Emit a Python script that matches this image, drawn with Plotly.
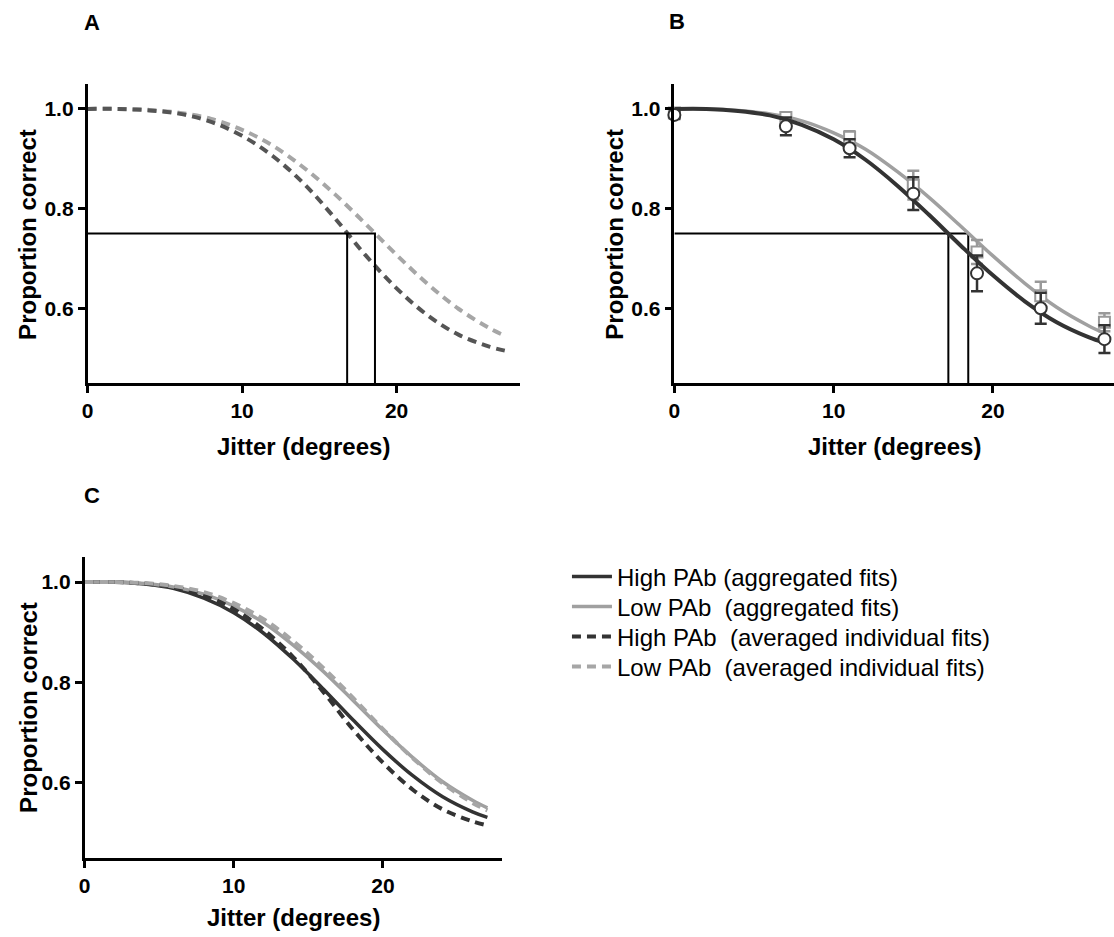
import plotly.graph_objects as go

# ---------------- data ----------------
fit_jitter = [0, 2, 4, 6, 8, 10, 12, 14, 16, 18, 20, 22, 24, 26, 27]

high_avg_fit = [1.000, 1.000, 0.997, 0.990, 0.974, 0.946, 0.905, 0.850, 0.781, 0.706, 0.640, 0.586, 0.547, 0.523, 0.515]
low_avg_fit = [1.000, 1.000, 0.998, 0.992, 0.980, 0.958, 0.926, 0.882, 0.829, 0.769, 0.707, 0.649, 0.599, 0.560, 0.545]
high_agg_fit = [1.000, 1.000, 0.996, 0.987, 0.968, 0.939, 0.898, 0.846, 0.787, 0.725, 0.666, 0.614, 0.572, 0.542, 0.531]
low_agg_fit = [1.000, 1.000, 0.997, 0.990, 0.976, 0.952, 0.919, 0.874, 0.822, 0.764, 0.705, 0.650, 0.602, 0.565, 0.550]

jitter_levels = [0, 7, 11, 15, 19, 23, 27]
high_mean = [0.988, 0.965, 0.921, 0.830, 0.670, 0.600, 0.538]
high_err = [0.008, 0.018, 0.018, 0.033, 0.036, 0.031, 0.028]
low_mean = [0.992, 0.983, 0.943, 0.847, 0.713, 0.625, 0.572]
low_err = [0.006, 0.010, 0.012, 0.029, 0.024, 0.028, 0.018]

criterion = 0.75
thresholds_A = [16.8, 18.6]   # high, low (averaged individual fits)
thresholds_B = [17.2, 18.45]  # high, low (aggregated fits)

x_ticks = [0, 10, 20]
y_ticks = [0.6, 0.8, 1.0]
y_range = [0.45, 1.05]

legend_names = [
    "High PAb (aggregated fits)",
    "Low PAb\u00a0 (aggregated fits)",
    "High PAb\u00a0 (averaged individual fits)",
    "Low PAb\u00a0 (averaged individual fits)",
]

# ---------------- styling ----------------
W, H = 1114, 937
DARK = "#333333"
MID = "#555555"
LIGHT = "#a6a6a6"
LIGHT_MARK = "#999999"
FONT = "Liberation Sans, Arial, sans-serif"
DASH = "9px,6px"


def px_x(p):
    return p / W


def px_y(p):
    return 1 - p / H


fig = go.Figure()

# ---------- Panel A ----------
fig.add_trace(go.Scatter(x=fit_jitter, y=low_avg_fit, mode="lines", line=dict(color=LIGHT, width=4, dash=DASH, shape="spline"),
                         xaxis="x", yaxis="y", showlegend=False, hoverinfo="skip"))
fig.add_trace(go.Scatter(x=fit_jitter, y=high_avg_fit, mode="lines", line=dict(color=MID, width=4, dash=DASH, shape="spline"),
                         xaxis="x", yaxis="y", showlegend=False, hoverinfo="skip"))
fig.add_trace(go.Scatter(x=[0, thresholds_A[1], thresholds_A[1]], y=[criterion, criterion, y_range[0]], mode="lines",
                         line=dict(color="black", width=2), xaxis="x", yaxis="y", showlegend=False, hoverinfo="skip"))
fig.add_trace(go.Scatter(x=[thresholds_A[0], thresholds_A[0]], y=[criterion, y_range[0]], mode="lines",
                         line=dict(color="black", width=2), xaxis="x", yaxis="y", showlegend=False, hoverinfo="skip"))

# ---------- Panel B ----------
fig.add_trace(go.Scatter(x=[0, thresholds_B[1], thresholds_B[1]], y=[criterion, criterion, y_range[0]], mode="lines",
                         line=dict(color="black", width=2), xaxis="x2", yaxis="y2", showlegend=False, hoverinfo="skip"))
fig.add_trace(go.Scatter(x=[thresholds_B[0], thresholds_B[0]], y=[criterion, y_range[0]], mode="lines",
                         line=dict(color="black", width=2), xaxis="x2", yaxis="y2", showlegend=False, hoverinfo="skip"))
fig.add_trace(go.Scatter(x=fit_jitter, y=low_agg_fit, mode="lines", line=dict(color="#a0a0a0", width=3.5, shape="spline"),
                         xaxis="x2", yaxis="y2", showlegend=False, hoverinfo="skip"))
fig.add_trace(go.Scatter(x=jitter_levels, y=low_mean, mode="markers",
                         marker=dict(symbol="square", size=11, color="white", line=dict(color=LIGHT_MARK, width=2)),
                         error_y=dict(type="data", array=low_err, color=LIGHT_MARK, thickness=2.5, width=6),
                         xaxis="x2", yaxis="y2", showlegend=False, cliponaxis=False))
fig.add_trace(go.Scatter(x=fit_jitter, y=high_agg_fit, mode="lines", line=dict(color=DARK, width=4, shape="spline"),
                         xaxis="x2", yaxis="y2", showlegend=False, hoverinfo="skip"))
fig.add_trace(go.Scatter(x=jitter_levels, y=high_mean, mode="markers",
                         marker=dict(symbol="circle", size=12, color="white", line=dict(color=DARK, width=2)),
                         error_y=dict(type="data", array=high_err, color=DARK, thickness=2.5, width=6),
                         xaxis="x2", yaxis="y2", showlegend=False, cliponaxis=False))

# ---------- Panel C (each legend entry in its own legend box for exact spacing) ----------
c_series = [
    (high_agg_fit, dict(color=DARK, width=3.5), "legend"),
    (low_agg_fit, dict(color="#a0a0a0", width=3.5), "legend2"),
    (high_avg_fit, dict(color=DARK, width=4, dash=DASH), "legend3"),
    (low_avg_fit, dict(color=LIGHT, width=4, dash=DASH), "legend4"),
]
for (ys, ln, lg), name in zip(c_series, legend_names):
    fig.add_trace(go.Scatter(x=fit_jitter, y=ys, mode="lines", name=name, legend=lg,
                             line=dict(shape="spline", **ln), xaxis="x3", yaxis="y3"))

# ---------- axes ----------
tickfont = dict(family=FONT, size=21, color="black", weight="bold")


def xaxis(domain, rng, anchor):
    return dict(domain=domain, range=rng, anchor=anchor, showline=True, linewidth=2.5, linecolor="black",
                ticks="outside", ticklen=7, tickwidth=2.5, tickcolor="black", tickvals=x_ticks,
                tickfont=tickfont, showgrid=False, zeroline=False, fixedrange=True)


def yaxis(domain, anchor):
    return dict(domain=domain, range=y_range, anchor=anchor, showline=True, linewidth=2.5, linecolor="black",
                ticks="outside", ticklen=7, tickwidth=2.5, tickcolor="black", tickvals=y_ticks, tickformat=".1f",
                tickfont=tickfont, showgrid=False, zeroline=False, fixedrange=True)


top_dom = [px_y(383), px_y(84)]
bot_dom = [px_y(858), px_y(557)]

legend_style = dict(xanchor="left", yanchor="middle", bgcolor="rgba(0,0,0,0)", borderwidth=0,
                    font=dict(family=FONT, size=24, color="black"), itemwidth=40)
legend_rows = [577, 607, 637, 667]
lx = px_x(564)

fig.update_layout(
    width=W, height=H,
    margin=dict(l=0, r=0, t=0, b=0),
    paper_bgcolor="white", plot_bgcolor="white",
    font=dict(family=FONT, color="black"),
    xaxis=xaxis([px_x(82), px_x(517)], [0, 28], "y"),
    yaxis=yaxis(top_dom, "x"),
    xaxis2=xaxis([px_x(672), 1.0], [0, 27.6], "y2"),
    yaxis2=yaxis(top_dom, "x2"),
    xaxis3=xaxis([px_x(79), px_x(499)], [0, 28], "y3"),
    yaxis3=yaxis(bot_dom, "x3"),
    showlegend=True,
    legend=dict(x=lx, y=px_y(legend_rows[0]), **legend_style),
    legend2=dict(x=lx, y=px_y(legend_rows[1]), **legend_style),
    legend3=dict(x=lx, y=px_y(legend_rows[2]), **legend_style),
    legend4=dict(x=lx, y=px_y(legend_rows[3]), **legend_style),
)

# ---------- text annotations: panel letters and axis titles ----------
ann = []
for letter, xp, yp in [("A", 86, 22), ("B", 675, 21), ("C", 86, 495)]:
    ann.append(dict(text=letter, x=px_x(xp), y=px_y(yp), xref="paper", yref="paper", showarrow=False,
                    font=dict(family=FONT, size=22, weight="bold"), xanchor="center", yanchor="middle"))

title_font = dict(family=FONT, size=24, weight="bold", color="black")
for xc, yc in [((82 + 517) / 2, 446), (893, 446), ((79 + 499) / 2, 917)]:
    ann.append(dict(text="Jitter (degrees)", x=px_x(xc), y=px_y(yc), xref="paper", yref="paper", showarrow=False,
                    font=title_font, xanchor="center", yanchor="middle"))
for xc, yc in [(22, 234), (612, 234), (22, 707)]:
    ann.append(dict(text="Proportion correct", x=px_x(xc), y=px_y(yc), xref="paper", yref="paper", showarrow=False,
                    font=title_font, textangle=-90, xanchor="center", yanchor="middle"))
fig.update_layout(annotations=ann)

fig.write_html("out.html", config={"displayModeBar": False},
               post_script="document.body.style.margin='0';document.body.style.overflow='hidden';")
